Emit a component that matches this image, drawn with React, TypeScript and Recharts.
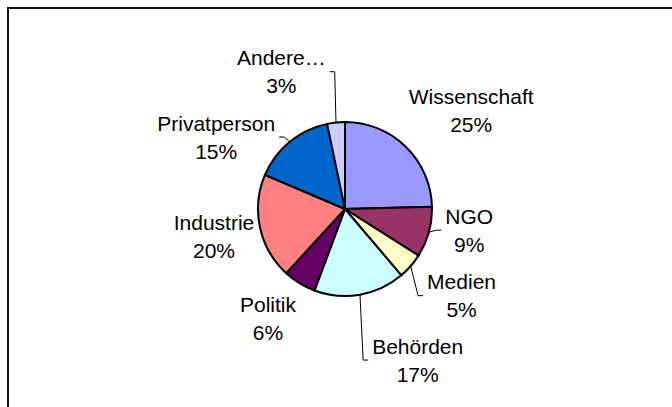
import React from 'react';
import { PieChart, Pie, Cell } from 'recharts';

const CATEGORIES = ['Wissenschaft', 'NGO', 'Medien', 'Behörden', 'Politik', 'Industrie', 'Privatperson', 'Andere…'];
const VALUES = [24.6, 9.4, 4.8, 16.9, 6.1, 19.6, 15.3, 3.3];

const COLORS = ['#9999FF', '#993366', '#FFFFCC', '#CCFFFF', '#660066', '#FF8080', '#0066CC', '#CCCCFF'];
// label placement tweaks (dx, dy) relative to default radial position
const LABEL_NUDGE: [number, number][] = [[34, -3.5], [-3, -14], [17, 0], [50, 21], [-8, -3], [-2, 0], [-45, 30], [-50, -6]];
const LEADER = [false, true, true, true, false, false, true, true];

const FONT = '"Liberation Sans", Arial, sans-serif';
const FONT_SIZE = 21;
const LINE_GAP = 14;

const data = CATEGORIES.map((name, i) => ({ name, value: VALUES[i] }));

let ctx: CanvasRenderingContext2D | null = null;
function measure(text: string): number {
  try {
    if (!ctx) {
      const c = document.createElement('canvas');
      ctx = c.getContext('2d');
    }
    if (ctx) {
      ctx.font = `${FONT_SIZE}px "Liberation Sans"`;
      return ctx.measureText(text).width;
    }
  } catch (e) {}
  return text.length * FONT_SIZE * 0.55;
}

const RAD = Math.PI / 180;

function renderLabel(props: any) {
  const { cx, cy, midAngle, outerRadius, percent, index, name } = props;
  const base = outerRadius + 45;
  const [ndx, ndy] = LABEL_NUDGE[index] || [0, 0];
  const lx = cx + base * Math.cos(-midAngle * RAD) + ndx;
  const ly = cy + base * Math.sin(-midAngle * RAD) + ndy;
  const px = cx + outerRadius * Math.cos(-midAngle * RAD);
  const py = cy + outerRadius * Math.sin(-midAngle * RAD);
  const pct = `${Math.round(percent * 100)}%`;
  let leader = null;
  if (LEADER[index]) {
    const w = Math.max(measure(name), measure(pct));
    const right = lx > px;
    const edgeX = right ? lx - w / 2 - 4 : lx + w / 2 + 4;
    const elbowX = right ? edgeX - 5 : edgeX + 5;
    leader = (
      <polyline
        points={`${px},${py} ${elbowX},${ly} ${edgeX},${ly}`}
        fill="none"
        stroke="#000"
        strokeWidth={1}
      />
    );
  }
  return (
    <g key={`lbl-${index}`}>
      {leader}
      <text x={lx} y={ly - LINE_GAP + 7.5} textAnchor="middle" fill="#000" fontFamily={FONT} fontSize={FONT_SIZE}>
        {name}
      </text>
      <text x={lx} y={ly + LINE_GAP + 7.5} textAnchor="middle" fill="#000" fontFamily={FONT} fontSize={FONT_SIZE}>
        {pct}
      </text>
    </g>
  );
}

export default function App() {
  return (
    <div style={{ position: 'absolute', left: 0, top: 0, width: 672, height: 407, overflow: 'hidden', background: '#fff' }}>
      <div
        style={{
          position: 'absolute',
          left: 7,
          top: 7,
          width: 700,
          height: 440,
          borderLeft: '2px solid #111',
          borderTop: '2px solid #111',
        }}
      />
      <div style={{ position: 'absolute', left: 0, top: 0 }}>
        <PieChart width={672} height={407} margin={{ top: 0, right: 0, bottom: 0, left: 0 }}>
          <Pie
            data={data}
            dataKey="value"
            nameKey="name"
            cx={345}
            cy={209}
            outerRadius={87}
            startAngle={90}
            endAngle={-270}
            stroke="#000"
            strokeWidth={2}
            label={renderLabel}
            labelLine={false}
            isAnimationActive={false}
          >
            {data.map((d, i) => (
              <Cell key={d.name} fill={COLORS[i]} stroke="#000" strokeWidth={2} />
            ))}
          </Pie>
        </PieChart>
      </div>
    </div>
  );
}
